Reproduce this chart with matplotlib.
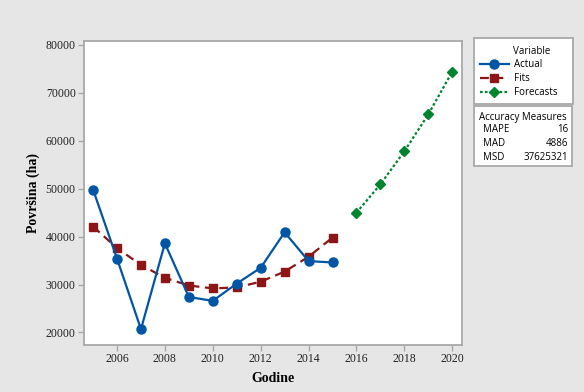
import matplotlib.pyplot as plt
from matplotlib.patches import Rectangle

# data
years_actual = list(range(2005, 2016))
actual = [49800, 35400, 20700, 38600, 27400, 26600, 30200, 33500, 40900, 34900, 34600]
fits = [42100, 37600, 34100, 31400, 29800, 29200, 29400, 30600, 32700, 35800, 39800]
years_forecast = list(range(2016, 2021))
forecasts = [45000, 50900, 57800, 65500, 74400]

acc_names = ["MAPE", "MAD", "MSD"]
acc_values = ["16", "4886", "37625321"]

blue = "#0055a5"
red = "#8c1515"
green = "#00842e"
edge = "#a8a8a8"
bg = "#e6e6e6"

fig = plt.figure(figsize=(5.84, 3.92), dpi=100, facecolor=bg)
ax = fig.add_axes([0.1438, 0.12, 0.647, 0.7754])
ax.set_facecolor("white")

ax.plot(years_actual, actual, color=blue, lw=1.6, marker="o", ms=6.5,
        label="Actual", zorder=3)
ax.plot(years_actual, fits, color=red, lw=1.6, ls=(0, (4, 2.5)), marker="s", ms=6,
        label="Fits", zorder=2)
ax.plot(years_forecast, forecasts, color=green, lw=1.6, ls=(0, (1.2, 1)), marker="D",
        ms=5.5, label="Forecasts", zorder=3)

ax.set_xlim(2004.62, 2020.4)
ax.set_ylim(17400, 80800)
ax.set_xticks(range(2006, 2021, 2))
ax.set_yticks(range(20000, 80001, 10000))

serif = "Liberation Serif"
for lab in ax.get_xticklabels() + ax.get_yticklabels():
    lab.set_family(serif)
    lab.set_fontsize(8.5)
    lab.set_color("#222222")
ax.tick_params(direction="out", length=4, width=1, color=edge, pad=2)
for s in ax.spines.values():
    s.set_color(edge)
    s.set_linewidth(1.3)

ax.set_xlabel("Godine", family=serif, fontsize=10, fontweight="bold", labelpad=5)
ax.set_ylabel("Površina (ha)", family=serif, fontsize=10, fontweight="bold", labelpad=4)

# legend box (title placed by hand so it lines up with the labels)
sans = "Open Sans"
leg = fig.legend(handles=ax.get_lines(), title=" ", loc="upper left",
                 bbox_to_anchor=(474 / 584, 1 - 38 / 392), frameon=True, fancybox=False,
                 edgecolor=edge, facecolor="white", framealpha=1,
                 prop={"family": sans, "size": 7}, title_fontproperties={"family": sans, "size": 7},
                 handlelength=3.0, handletextpad=0.5, labelspacing=0.32, borderpad=0.6,
                 borderaxespad=0)
leg._legend_box.sep = 3
leg.get_frame().set_linewidth(1.3)
leg.set_zorder(5)
leg.texts[2].set_text("Forecasts    ")
fig.text(513 / 584, 1 - 51 / 392, "Variable", ha="left", va="center",
         family=sans, fontsize=7, zorder=6)

# accuracy measures box
x0, y0, w, h = 474 / 584, 1 - 166 / 392, 98 / 584, 60 / 392
fig.patches.append(Rectangle((x0, y0), w, h, transform=fig.transFigure,
                             facecolor="white", edgecolor=edge, lw=1.3))
fig.text(x0 + w / 2, 1 - 117 / 392, "Accuracy Measures", ha="center", va="center",
         family=sans, fontsize=7)
for i, (n, v) in enumerate(zip(acc_names, acc_values)):
    yy = 1 - (129 + 14 * i) / 392
    fig.text(483 / 584, yy, n, ha="left", va="center", family=sans, fontsize=7)
    fig.text(568 / 584, yy, v, ha="right", va="center", family=sans, fontsize=7)

fig.savefig("out.png", dpi=100, facecolor=bg)
